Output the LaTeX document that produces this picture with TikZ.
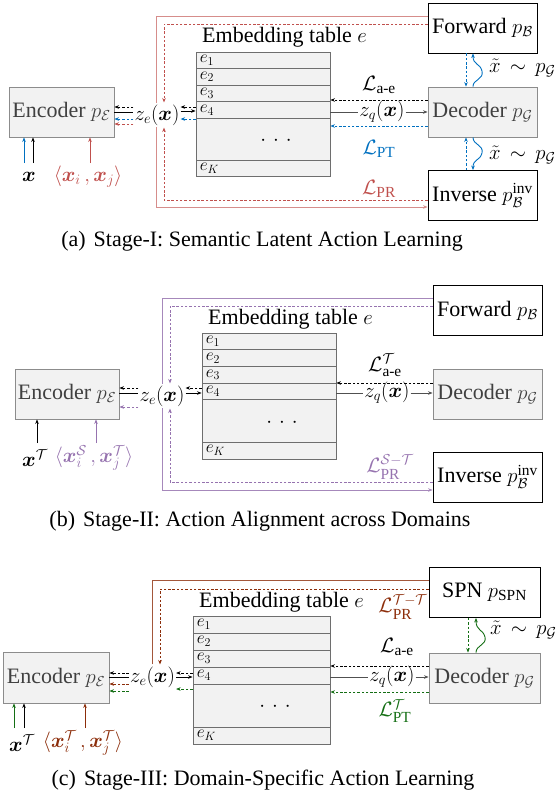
\documentclass[tikz,border=0pt]{standalone}
\usepackage{amsmath}
\usepackage{fontspec}
\setmainfont{Liberation Serif}
\usetikzlibrary{arrows.meta}
\pgfdeclarelayer{bg}
\pgfsetlayers{bg,main}
\definecolor{lg}{HTML}{F2F2F2}
\definecolor{bord}{HTML}{8C8C8C}
\definecolor{rowc}{HTML}{6E6E6E}
\definecolor{txtg}{HTML}{404040}
\definecolor{darkline}{HTML}{505050}
\definecolor{cred}{RGB}{192,80,77}
\definecolor{cblue}{RGB}{0,112,192}
\definecolor{cpurp}{RGB}{150,115,175}
\definecolor{cbrown}{RGB}{140,45,10}
\definecolor{cgreen}{RGB}{20,110,20}
\tikzset{
  gbox/.style={draw=bord, fill=lg, line width=0.9pt, text=txtg, inner sep=0pt, minimum height=50},
  wbox/.style={draw=black, fill=white, line width=0.9pt, inner sep=0pt, minimum height=50, minimum width=109},
  row/.style={draw=rowc, fill=lg, line width=0.9pt, inner sep=0pt},
  rlab/.style={anchor=west, inner sep=0pt, font=\fontsize{18}{20}\selectfont, xshift=4pt},
  zlab/.style={fill=white, inner xsep=1pt, inner ysep=2pt},
  dsh/.style={dash pattern=on 2.5pt off 1.8pt, line width=0.8pt},
  sol/.style={line width=0.9pt},
  frame/.style={line width=0.95pt},
  dotsn/.style={inner sep=0pt},
  tl/.style={anchor=west, inner sep=0pt},
}
\newcommand\tdots{$\cdot$\hspace{7pt}$\cdot$\hspace{7pt}$\cdot$}
\newcommand\tlab{$\tilde{x}\,\sim\,p_{\mathcal{G}}$}
\begin{document}
\begin{tikzpicture}[x=1pt,y=-1pt,font=\fontsize{22}{26}\selectfont,>={Stealth[length=4.5pt,width=3.6pt]}]
\useasboundingbox (0,0) rectangle (555,796);

%%%%%%%%%%%%%%%% Panel (a)
\node[gbox, minimum width=105] (encA) at (61.5,112) {Encoder $p_{\mathcal{E}}$};
\node[zlab] (zeA) at (157,115) {$z_e(\boldsymbol{x})$};
\node[row, minimum width=134, minimum height=16.6] (a1) at (263,60.3) {};
\node[row, minimum width=134, minimum height=16.6] (a2) at (263,76.9) {};
\node[row, minimum width=134, minimum height=16.6] (a3) at (263,93.5) {};
\node[row, minimum width=134, minimum height=16.6] (a4) at (263,110.1) {};
\node[row, minimum width=134, minimum height=41.6] (a5) at (263,139.2) {};
\node[row, minimum width=134, minimum height=16.6] (aK) at (263,168.3) {};
\node[rlab] at (a1.west) {$e_1$};
\node[rlab] at (a2.west) {$e_2$};
\node[rlab] at (a3.west) {$e_3$};
\node[rlab] at (a4.west) {$e_4$};
\node[rlab] at (aK.west) {$e_K$};
\node[dotsn] (dA) at (276,141) {\tdots};
\node[anchor=base west, inner sep=0pt] (ttlA) at (202,42) {Embedding table $e$};
\node[gbox, minimum width=109] (decA) at (482.5,112) {Decoder $p_{\mathcal{G}}$};
\node[wbox] (fwdA) at (482.5,28) {Forward $p_{\mathcal{B}}$};
\node[wbox] (invA) at (482.5,195.5) {Inverse $p_{\mathcal{B}}^{\mathrm{inv}}$};
\node[inner sep=1pt] (zqA) at (382,112) {$z_q(\boldsymbol{x})$};
\node (laeA) at (379,85) {$\mathcal{L}_{\text{a-e}}$};
\node[text=cblue] (lptA) at (379,149) {$\mathcal{L}_{\mathrm{PT}}$};
\node[text=cred] (lprA) at (379,189) {$\mathcal{L}_{\mathrm{PR}}$};
\node (xA) at (29,177) {$\boldsymbol{x}$};
\node[text=cred] (pairA) at (88,177) {$\langle\boldsymbol{x}_i\,,\boldsymbol{x}_j\rangle$};
\node[tl] (tlA1) at (489,68) {\tlab};
\node[tl] (tlA2) at (489,155) {\tlab};
\node (capA) at (262,241) {(a)\hspace{8pt}Stage-I: Semantic Latent Action Learning};

\draw[cblue, sol, ->] (24,163) -- (encA.south -| 24,0);
\draw[sol, ->] (33,163) -- (encA.south -| 33,0);
\draw[cred, sol, ->] (90,163) -- (encA.south -| 90,0);
\draw[dsh, ->] (zeA.west |- 0,107) -- (encA.east |- 0,107);
\draw[sol] (encA.east |- 0,112) -- (zeA.west |- 0,112);
\draw[dsh, cblue, ->] (zeA.west |- 0,119) -- (encA.east |- 0,119);
\draw[dsh, cred, ->] (zeA.west |- 0,124) -- (encA.east |- 0,124);
\draw[dsh, ->] (a4.west |- 0,107) -- (zeA.east |- 0,107);
\draw[sol, ->] (zeA.east |- 0,111) -- (a4.west |- 0,111);
\draw[dsh, cblue, ->] (a4.west |- 0,119) -- (zeA.east |- 0,119);
\draw[sol, darkline] (a4.east |- zqA) -- (zqA.west);
\draw[sol, darkline, ->] (zqA.east) -- (decA.west |- zqA);
\draw[dsh, ->] (decA.west |- 0,100) -- (a4.east |- 0,100);
\draw[dsh, cblue, ->] (decA.west |- 0,126) -- (a4.east |- 0,126);
\draw[dsh, cblue, ->] (fwdA.south -| 466,0) -- (decA.north -| 466,0);
\draw[sol, cblue, ->] (decA.north -| 473,0) .. controls (473,79) and (484,80) .. (482,71) .. controls (480,63) and (473,65) .. (fwdA.south -| 473,0);
\draw[dsh, cblue, ->] (invA.north -| 466,0) -- (decA.south -| 466,0);
\draw[sol, cblue, ->] (decA.south -| 473,0) .. controls (473,145) and (484,145) .. (482,153) .. controls (480,161) and (473,159) .. (invA.north -| 473,0);
\begin{pgfonlayer}{bg}
\draw[frame, cred!65, ->] (fwdA.west |- 0,16) -- (156,16) -- (156,207) -- (invA.west |- 0,207);
\draw[dsh, cred, ->] (fwdA.west |- 0,24) -- (164,24) -- (zeA.north -| 164,0);
\draw[dsh, cred, ->] (invA.west |- 0,200) -- (164,200) -- (zeA.south -| 164,0);
\end{pgfonlayer}

%%%%%%%%%%%%%%%% Panel (b)
\node[gbox, minimum width=104] (encB) at (67,394) {Encoder $p_{\mathcal{E}}$};
\node[zlab] (zeB) at (162,396) {$z_e(\boldsymbol{x})$};
\node[row, minimum width=134, minimum height=16.7] (b1) at (269,341.3) {};
\node[row, minimum width=134, minimum height=16.7] (b2) at (269,358) {};
\node[row, minimum width=134, minimum height=16.7] (b3) at (269,374.7) {};
\node[row, minimum width=134, minimum height=16.7] (b4) at (269,391.4) {};
\node[row, minimum width=134, minimum height=42.2] (b5) at (269,420.9) {};
\node[row, minimum width=134, minimum height=17] (bK) at (269,450.5) {};
\node[rlab] at (b1.west) {$e_1$};
\node[rlab] at (b2.west) {$e_2$};
\node[rlab] at (b3.west) {$e_3$};
\node[rlab] at (b4.west) {$e_4$};
\node[rlab] at (bK.west) {$e_K$};
\node[dotsn] (dB) at (282,423) {\tdots};
\node[anchor=base west, inner sep=0pt] (ttlB) at (208,324) {Embedding table $e$};
\node[gbox, minimum width=109] (decB) at (487.5,394) {Decoder $p_{\mathcal{G}}$};
\node[wbox] (fwdB) at (487.5,310.5) {Forward $p_{\mathcal{B}}$};
\node[wbox] (invB) at (487.5,477) {Inverse $p_{\mathcal{B}}^{\mathrm{inv}}$};
\node[inner sep=1pt] (zqB) at (387,393) {$z_q(\boldsymbol{x})$};
\node (laeB) at (385,365) {$\mathcal{L}^{\mathcal{T}}_{\text{a-e}}$};
\node[text=cpurp] (lprB) at (390,467) {$\mathcal{L}^{\mathcal{S}{-}\mathcal{T}}_{\mathrm{PR}}$};
\node (xB) at (35,458) {$\boldsymbol{x}^{\mathcal{T}}$};
\node[text=cpurp] (pairB) at (94,458) {$\langle\boldsymbol{x}^{\mathcal{S}}_i\,,\boldsymbol{x}^{\mathcal{T}}_j\rangle$};
\node (capB) at (260,521) {(b)\hspace{8pt}Stage-II: Action Alignment across Domains};

\draw[sol, ->] (37,443) -- (encB.south -| 37,0);
\draw[sol, cpurp, ->] (96,443) -- (encB.south -| 96,0);
\draw[dsh, ->] (zeB.west |- 0,388) -- (encB.east |- 0,388);
\draw[sol] (encB.east |- 0,393) -- (zeB.west |- 0,393);
\draw[dsh, cpurp, ->] (zeB.west |- 0,407) -- (encB.east |- 0,407);
\draw[dsh, ->] (b4.west |- 0,388) -- (zeB.east |- 0,388);
\draw[sol, ->] (zeB.east |- 0,393) -- (b4.west |- 0,393);
\draw[sol, darkline] (b4.east |- zqB) -- (zqB.west);
\draw[sol, darkline, ->] (zqB.east) -- (decB.west |- zqB);
\draw[dsh, ->] (decB.west |- 0,383) -- (b4.east |- 0,383);
\begin{pgfonlayer}{bg}
\draw[frame, cpurp!85, ->] (fwdB.west |- 0,298) -- (162,298) -- (162,490) -- (invB.west |- 0,490);
\draw[dsh, cpurp, ->] (fwdB.west |- 0,306) -- (170,306) -- (zeB.north -| 170,0);
\draw[dsh, cpurp, ->] (invB.west |- 0,482) -- (170,482) -- (zeB.south -| 170,0);
\end{pgfonlayer}

%%%%%%%%%%%%%%%% Panel (c)
\node[gbox, minimum width=106, minimum height=51] (encC) at (56,677.5) {Encoder $p_{\mathcal{E}}$};
\node[zlab] (zeC) at (152.5,677) {$z_e(\boldsymbol{x})$};
\node[row, minimum width=137, minimum height=17] (c1) at (261.5,624.5) {};
\node[row, minimum width=137, minimum height=17] (c2) at (261.5,641.5) {};
\node[row, minimum width=137, minimum height=17] (c3) at (261.5,658.5) {};
\node[row, minimum width=137, minimum height=17] (c4) at (261.5,675.5) {};
\node[row, minimum width=137, minimum height=43] (c5) at (261.5,705.5) {};
\node[row, minimum width=137, minimum height=17] (cK) at (261.5,735.5) {};
\node[rlab] at (c1.west) {$e_1$};
\node[rlab] at (c2.west) {$e_2$};
\node[rlab] at (c3.west) {$e_3$};
\node[rlab] at (c4.west) {$e_4$};
\node[rlab] at (cK.west) {$e_K$};
\node[dotsn] (dC) at (275,707) {\tdots};
\node[anchor=base west, inner sep=0pt] (ttlC) at (199,607) {Embedding table $e$};
\node[gbox, minimum width=111] (decC) at (484.5,678) {Decoder $p_{\mathcal{G}}$};
\node[wbox, minimum width=111] (spnC) at (484.5,592.5) {SPN $p_{\mathrm{SPN}}$};
\node[inner sep=1pt] (zqC) at (392,677) {$z_q(\boldsymbol{x})$};
\node (laeC) at (397,647) {$\mathcal{L}_{\text{a-e}}$};
\node[text=cbrown] (lprC) at (403,607) {$\mathcal{L}^{\mathcal{T}{-}\mathcal{T}}_{\mathrm{PR}}$};
\node[text=cgreen] (lptC) at (395,711) {$\mathcal{L}^{\mathcal{T}}_{\mathrm{PT}}$};
\node (xC) at (22,743) {$\boldsymbol{x}^{\mathcal{T}}$};
\node[text=cbrown] (pairC) at (83,743) {$\langle\boldsymbol{x}^{\mathcal{T}}_i\,,\boldsymbol{x}^{\mathcal{T}}_j\rangle$};
\node[tl] (tlC) at (490,630) {\tlab};
\node (capC) at (263,780) {(c)\hspace{8pt}Stage-III: Domain-Specific Action Learning};

\draw[sol, cgreen, ->] (14,728) -- (encC.south -| 14,0);
\draw[sol, ->] (24,728) -- (encC.south -| 24,0);
\draw[sol, cbrown, ->] (85,728) -- (encC.south -| 85,0);
\draw[dsh, ->] (zeC.west |- 0,673) -- (encC.east |- 0,673);
\draw[sol] (encC.east |- 0,677) -- (zeC.west |- 0,677);
\draw[dsh, cbrown, ->] (zeC.west |- 0,684) -- (encC.east |- 0,684);
\draw[dsh, cgreen, ->] (zeC.west |- 0,691) -- (encC.east |- 0,691);
\draw[dsh, ->] (c4.west |- 0,673) -- (zeC.east |- 0,673);
\draw[sol, ->] (zeC.east |- 0,677) -- (c4.west |- 0,677);
\draw[dsh, cgreen, ->] (c4.west |- 0,689) -- (zeC.east |- 0,689);
\draw[sol, darkline] (c4.east |- zqC) -- (zqC.west);
\draw[sol, darkline, ->] (zqC.east) -- (decC.west |- zqC);
\draw[dsh, ->] (decC.west |- 0,666) -- (c4.east |- 0,666);
\draw[dsh, cgreen, ->] (decC.west |- 0,692) -- (c4.east |- 0,692);
\draw[dsh, cgreen, ->] (spnC.south -| 468,0) -- (decC.north -| 468,0);
\draw[sol, cgreen, ->] (decC.north -| 476,0) .. controls (476,645) and (487,645) .. (485,637) .. controls (483,629) and (476,631) .. (spnC.south -| 476,0);
\begin{pgfonlayer}{bg}
\draw[frame, cbrown!80] (zeC.north -| 152,0) -- (152,580) -- (spnC.west |- 0,580);
\draw[dsh, cbrown, ->] (spnC.west |- 0,589) -- (160,589) -- (zeC.north -| 160,0);
\end{pgfonlayer}
\end{tikzpicture}
\end{document}
